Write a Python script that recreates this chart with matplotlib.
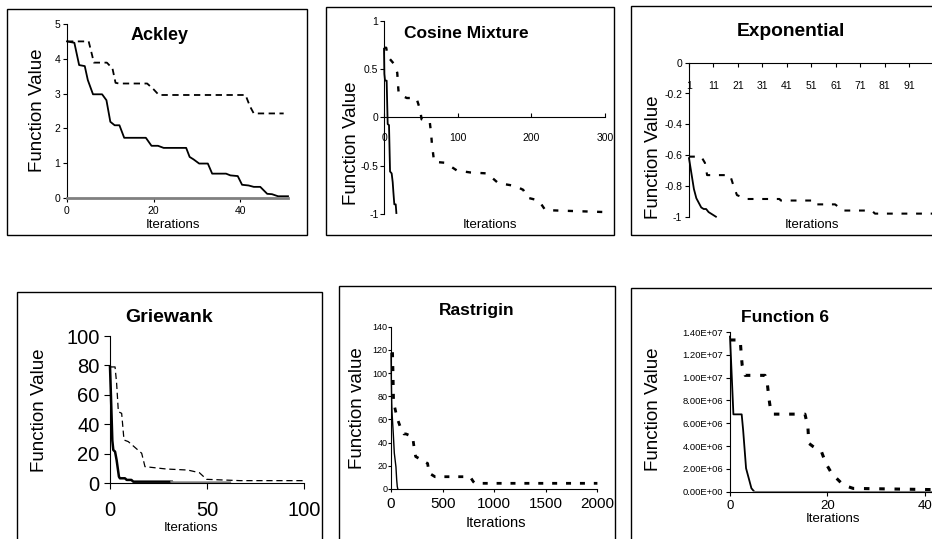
import matplotlib
matplotlib.use("Agg")
import matplotlib.pyplot as plt
import matplotlib.font_manager as fm
from matplotlib.patches import Rectangle

avail = {f.name for f in fm.fontManager.ttflist}
NARROW = 'Liberation Sans Narrow' if 'Liberation Sans Narrow' in avail else 'Liberation Sans'
REG = 'Liberation Sans'
plt.rcParams['font.family'] = [NARROW, 'DejaVu Sans']

# ---------------- data ----------------
titles = ["Ackley", "Cosine Mixture", "Exponential", "Griewank", "Rastrigin", "Function 6"]
ylabels = ["Function Value", "Function Value", "Function Value", "Function Value", "Function value", "Function Value"]
xlabel = "Iterations"

ack_x_1 = [0, 1.7, 2.8, 4.1, 4.8, 6, 8.1, 9.1, 10, 11, 12.1, 13.2, 18.2, 19.5, 21, 22.3, 27.5, 28.3,
           29.2, 30.5, 32.5, 33.5, 36.7, 37.7, 39.4, 40.4, 41.9, 43.1, 44.6, 46.2, 47.3, 48.7, 51]
ack_y_1 = [4.5, 4.46, 3.82, 3.79, 3.39, 2.98, 2.98, 2.81, 2.19, 2.09, 2.09, 1.73, 1.73, 1.5, 1.5, 1.44,
           1.44, 1.18, 1.11, 0.99, 0.99, 0.70, 0.70, 0.65, 0.63, 0.38, 0.36, 0.32, 0.32, 0.12, 0.11, 0.05, 0.05]
ack_x_2 = [0, 5, 5.8, 6.2, 9.2, 10.5, 11.2, 12, 18.5, 20, 21.2, 41.2, 42.2, 43.1, 50]
ack_y_2 = [4.5, 4.5, 4.1, 3.89, 3.89, 3.72, 3.31, 3.29, 3.29, 3.12, 2.96, 2.96, 2.64, 2.43, 2.43]

cos_x_1 = [0, 0.5, 1.4, 3.6, 5, 6.8, 8.2, 10.4, 11.8, 12.7, 14, 15.9, 16.8]
cos_y_1 = [0.71, 0.45, 0.38, 0.38, -0.07, -0.08, -0.56, -0.58, -0.67, -0.77, -0.9, -0.9, -0.99]
cos_x_2 = [0, 3, 5, 15, 18, 19, 20, 31, 44, 49, 51, 62, 64, 65, 68, 83, 87, 99, 117, 140, 155,
           178, 189, 194, 210, 219, 300]
cos_y_2 = [0.72, 0.72, 0.63, 0.54, 0.46, 0.34, 0.24, 0.2, 0.2, 0.08, -0.02, -0.04, -0.17, -0.27,
           -0.46, -0.47, -0.49, -0.55, -0.57, -0.58, -0.68, -0.71, -0.75, -0.83, -0.86, -0.96, -0.98]

exp_x_1 = [1, 2, 3, 4, 5, 6, 7, 8, 9, 10, 11, 12]
exp_y_1 = [-0.62, -0.72, -0.82, -0.88, -0.91, -0.94, -0.95, -0.95, -0.97, -0.98, -0.99, -1.0]
exp_x_2 = [1, 6, 7.5, 8.4, 17.8, 19, 20.6, 24.7, 38, 38.5, 52.5, 53.2, 60.7, 64, 75.7, 77, 101]
exp_y_2 = [-0.61, -0.61, -0.65, -0.73, -0.73, -0.79, -0.86, -0.885, -0.885, -0.895, -0.895, -0.92,
           -0.92, -0.96, -0.96, -0.98, -0.98]

grie_x_1 = [0, 0.5, 1.2, 1.7, 2.6, 3.4, 4.6, 5.1, 7.7, 8.6, 11, 12, 31.7, 32.6, 61.7]
grie_y_1 = [79, 59, 29, 22.6, 21.5, 15.8, 4.5, 3.4, 3.4, 2.3, 2.3, 1.1, 1.1, 0.5, 0.5]
grie_x_2 = [0.5, 2.6, 3.4, 4.3, 6, 7.2, 9.4, 16.3, 18, 29, 40, 46, 49.7, 67, 100]
grie_y_2 = [79, 79, 68, 48.6, 47.5, 29.4, 28.3, 20.4, 11.3, 9.7, 9, 7.2, 2.7, 1.8, 1.8]

ras_x_1 = [0, 3, 7, 10, 22, 32, 48, 55, 61, 66]
ras_y_1 = [117, 95, 74, 66, 48, 31, 19, 8, 2, 0]
ras_x_2 = [15, 20, 25, 60, 94, 125, 145, 210, 222, 239, 297, 355, 368, 426, 766, 798, 814, 2000]
ras_y_2 = [118, 100, 75, 61, 52.6, 47.5, 47.5, 45, 37, 28, 25, 22, 13.8, 10.6, 10.6, 6.3, 4.9, 4.9]

f6_x_1 = [0, 0.3, 0.7, 2.4, 2.7, 3.3, 3.9, 4.4, 5, 50]
f6_y_1 = [1.36e7, 1.07e7, 6.78e6, 6.78e6, 5.4e6, 2.05e6, 1.1e6, 3e5, 0, 0]
f6_x_2 = [0, 2.1, 2.3, 2.5, 3.1, 7.2, 7.7, 8, 8.4, 8.9, 15.4, 16, 16.2, 17.1, 18.8, 19.7, 20.9,
          21.9, 23.3, 25.3, 50]
f6_y_2 = [1.33e7, 1.33e7, 1.21e7, 1.11e7, 1.02e7, 1.02e7, 9.35e6, 8.18e6, 7.0e6, 6.8e6, 6.8e6,
          5.7e6, 4.24e6, 3.95e6, 3.5e6, 2.48e6, 1.6e6, 1.17e6, 5.8e5, 2.9e5, 1.3e5]

ack_xticks = [0, 20, 40]
ack_yticks = [0, 1, 2, 3, 4, 5]
cos_xticks = [0, 100, 200, 300]
cos_yticks = [-1, -0.5, 0, 0.5, 1]
cos_ylabels = ["-1", "-0.5", "0", "0.5", "1"]
exp_xticks = [1, 11, 21, 31, 41, 51, 61, 71, 81, 91]
exp_yticks = [0, -0.2, -0.4, -0.6, -0.8, -1]
exp_ylabels = ["0", "-0.2", "-0.4", "-0.6", "-0.8", "-1"]
grie_xticks = [0, 50, 100]
grie_yticks = [0, 20, 40, 60, 80, 100]
ras_xticks = [0, 500, 1000, 1500, 2000]
ras_yticks = [0, 20, 40, 60, 80, 100, 120, 140]
f6_xticks = [0, 20, 40]
f6_yticks = [0, 2e6, 4e6, 6e6, 8e6, 1e7, 1.2e7, 1.4e7]
f6_ylabels = ["0.00E+00", "2.00E+06", "4.00E+06", "6.00E+06", "8.00E+06", "1.00E+07", "1.20E+07", "1.40E+07"]

# ---------------- layout ----------------
W, H = 932, 539
fig = plt.figure(figsize=(W / 100, H / 100), dpi=100)
fig.patch.set_facecolor("white")


def add_axes(L, R, T, B):
    return fig.add_axes([L / W, 1 - B / H, (R - L) / W, (B - T) / H])


def ftext(x, y, s, **kw):
    fig.text(x / W, 1 - y / H, s, **kw)


def box(L, T, R, B):
    fig.patches.append(Rectangle((L / W, 1 - B / H), (R - L) / W, (B - T) / H, transform=fig.transFigure,
                                 fill=False, edgecolor="black", linewidth=1.0, zorder=0))


def style(ax, xpos=None):
    for s in ("top", "right"):
        ax.spines[s].set_visible(False)
    ax.spines["left"].set_linewidth(0.8)
    ax.spines["bottom"].set_linewidth(0.8)
    if xpos is not None:
        ax.spines["bottom"].set_position(("data", xpos))
    ax.patch.set_alpha(0)


boxes = [(7, 9, 307, 235), (326, 7, 614, 235), (631, 6, 945, 235),
         (17, 292, 322, 560), (339, 286, 615, 560), (631, 288, 945, 560)]
for b in boxes:
    box(*b)

# Ackley
ax = add_axes(67, 288, 24, 198)
style(ax)
ax.plot(ack_x_1, ack_y_1, color="black", lw=1.3, clip_on=False)
ax.plot(ack_x_2, ack_y_2, color="black", lw=1.3, dashes=(3.5, 2.5), clip_on=False)
ax.set_xlim(0, 51)
ax.set_ylim(0, 5)
ax.spines["bottom"].set_color("#808080")
ax.spines["bottom"].set_linewidth(2)
ax.set_xticks(ack_xticks)
ax.set_yticks(ack_yticks)
ax.tick_params(axis="both", labelsize=7.5, length=3, width=0.8)
ax.tick_params(axis="x", pad=3)
ax.tick_params(axis="y", pad=2)

# Cosine Mixture
ax = add_axes(384, 605, 20.7, 214)
style(ax, 0)
ax.plot(cos_x_1, cos_y_1, color="black", lw=1.3, clip_on=False)
ax.plot(cos_x_2, cos_y_2, color="black", lw=1.7, dashes=(2.2, 4), clip_on=False)
ax.set_xlim(0, 300)
ax.set_ylim(-1, 1)
ax.set_xticks(cos_xticks)
ax.set_yticks(cos_yticks, cos_ylabels)
ax.tick_params(axis="both", labelsize=7.5, length=3, width=0.8)
ax.tick_params(axis="x", direction="in", pad=11)
ax.tick_params(axis="y", pad=1)

# Exponential
ax = add_axes(689, 689 + 100 * 2.447, 62.7, 216.7)
style(ax, 0)
ax.plot(exp_x_1, exp_y_1, color="black", lw=1.3, clip_on=False)
ax.plot(exp_x_2, exp_y_2, color="black", lw=1.5, dashes=(2.8, 4.2), clip_on=False)
ax.set_xlim(1, 101)
ax.set_ylim(-1, 0)
ax.set_xticks(exp_xticks)
ax.set_yticks(exp_yticks, exp_ylabels)
ax.tick_params(axis="both", labelsize=7.5, length=3, width=0.8)
ax.tick_params(axis="x", pad=10)
ax.tick_params(axis="y", pad=2)

# Griewank
ax = add_axes(110, 304.3, 336, 483.3)
style(ax)
n_black = 13
ax.plot(grie_x_1[:n_black], grie_y_1[:n_black], color="black", lw=1.8, clip_on=False)
ax.plot(grie_x_1[n_black - 1:], grie_y_1[n_black - 1:], color="#808080", lw=1.8, clip_on=False)
ax.plot(grie_x_2, grie_y_2, color="black", lw=0.9, dashes=(5, 3), clip_on=False)
ax.set_xlim(0, 100)
ax.set_ylim(0, 100)
ax.set_xticks(grie_xticks)
ax.set_yticks(grie_yticks)
ax.tick_params(axis="both", labelsize=14.5, length=4.5, width=0.8)
ax.tick_params(axis="x", pad=8)
ax.tick_params(axis="y", pad=3)

# Rastrigin
ax = add_axes(391, 597.4, 326.7, 489)
style(ax)
ax.plot(ras_x_1, ras_y_1, color="black", lw=1.0, clip_on=False)
ax.plot(ras_x_2, ras_y_2, color="black", lw=2.0, dashes=(1.8, 3.2), clip_on=False)
ax.set_xlim(0, 2000)
ax.set_ylim(0, 140)
ax.set_xticks(ras_xticks)
ax.set_yticks(ras_yticks)
ax.tick_params(axis="both", length=2, width=0.8)
ax.tick_params(axis="x", labelsize=11, pad=4)
ax.tick_params(axis="y", labelsize=6.5, pad=0.5)

# Function 6
ax = add_axes(730, 730 + 50 * 4.867, 332, 491.7)
style(ax)
ax.plot(f6_x_1[:-1], f6_y_1[:-1], color="black", lw=1.3, clip_on=False)
ax.plot(f6_x_1[-2:], f6_y_1[-2:], color="#808080", lw=1.5, clip_on=False)
ax.plot(f6_x_2, f6_y_2, color="black", lw=2.2, dashes=(1.8, 3.2), clip_on=False)
ax.set_xlim(0, 50)
ax.set_ylim(0, 1.4e7)
ax.set_xticks(f6_xticks)
ax.set_yticks(f6_yticks, f6_ylabels)
ax.tick_params(axis="both", length=3, width=0.8)
ax.tick_params(axis="x", labelsize=9.5, pad=3)
ax.tick_params(axis="y", labelsize=6.8, pad=2)

# ---------------- texts ----------------
title_pos = [(160, 35), (466, 33), (791, 32), (169, 317), (477, 310), (785, 317)]
title_sizes = [13, 12.5, 13.8, 14, 12.5, 12.5]
for t, (x, y), fs in zip(titles, title_pos, title_sizes):
    ftext(x, y, t, family=[REG, 'DejaVu Sans'], weight="bold", fontsize=fs, ha="center", va="center")

ylab_pos = [(37, 110), (351, 143), (654, 157), (39, 410), (357, 408), (653, 409)]
for t, (x, y) in zip(ylabels, ylab_pos):
    ftext(x, y, t, fontsize=13.5, rotation=90, ha="center", va="center")

xlab_pos = [(173, 225), (490, 225), (812, 225), (191, 528), (496, 523), (833, 519)]
xlab_sizes = [9.5, 9.5, 9.5, 9.5, 10.5, 9.5]
for (x, y), fs in zip(xlab_pos, xlab_sizes):
    ftext(x, y, xlabel, fontsize=fs, ha="center", va="center")

fig.savefig("out.png", dpi=100, facecolor="white")
